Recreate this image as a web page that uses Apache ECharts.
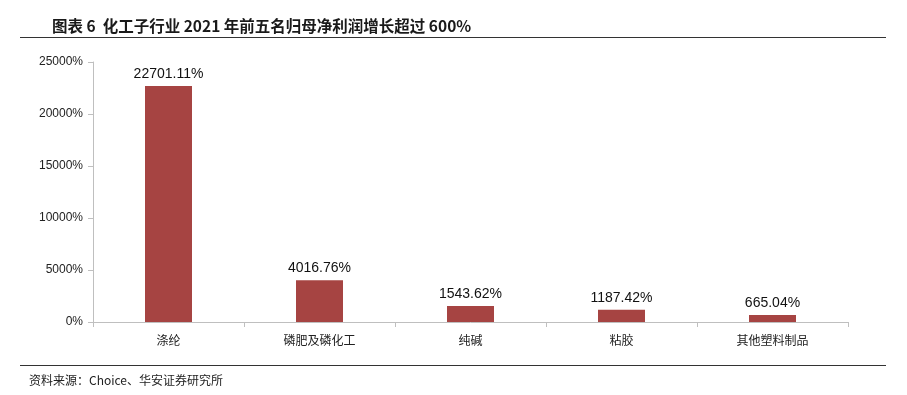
<!DOCTYPE html>
<html><head><meta charset="utf-8">
<script src="https://cdn.jsdelivr.net/npm/echarts@6/dist/echarts.min.js"></script>
<style>html,body{margin:0;padding:0;background:#fff}#c{width:907px;height:395px}</style>
</head><body><div id="c"></div>
<script>
const categories = ['涤纶','磷肥及磷化工','纯碱','粘胶','其他塑料制品'];
const values = [22701.11, 4016.76, 1543.62, 1187.42, 665.04];
const yTicks = [0, 5000, 10000, 15000, 20000, 25000];

const chart = echarts.init(document.getElementById('c'));
chart.setOption({
  animation: false,
  backgroundColor: '#fff',
  title: {
    text: '图表 6  化工子行业 2021 年前五名归母净利润增长超过 600%',
    left: 47, top: 13,
    textStyle: {fontFamily: 'Noto Sans CJK SC', fontSize: 15.5, fontWeight: 'bold', color: '#1a1a1a'}
  },
  graphic: [
    {type: 'line', shape: {x1: 20, y1: 37.5, x2: 886, y2: 37.5}, style: {stroke: '#333', lineWidth: 1}},
    {type: 'line', shape: {x1: 20, y1: 365.5, x2: 886, y2: 365.5}, style: {stroke: '#333', lineWidth: 1}},
    {type: 'text', left: 29, top: 374, style: {text: '资料来源：Choice、华安证券研究所', font: '12px "Noto Sans CJK SC"', fill: '#222'}}
  ],
  grid: {left: 93, top: 62, right: 59, bottom: 73},
  xAxis: {
    type: 'category', data: categories,
    axisLine: {lineStyle: {color: '#BFBFBF'}},
    axisTick: {show: true, alignWithLabel: false, length: 5, lineStyle: {color: '#BFBFBF'}},
    axisLabel: {color: '#222', fontSize: 12, fontFamily: 'Noto Sans CJK SC', margin: 12}
  },
  yAxis: {
    type: 'value', min: 0, max: 25000, interval: 5000,
    axisLine: {show: true, lineStyle: {color: '#BFBFBF'}},
    axisTick: {show: true, inside: false, length: 5, lineStyle: {color: '#BFBFBF'}},
    splitLine: {show: false},
    axisLabel: {color: '#222', fontSize: 12, fontFamily: 'Liberation Sans', formatter: v => v + '%', margin: 10}
  },
  series: [{
    type: 'bar', data: values, barWidth: 47,
    itemStyle: {color: '#A64442'},
    label: {show: true, position: 'top', distance: 5, color: '#111', fontSize: 14, fontFamily: 'Liberation Sans',
      formatter: p => p.value.toFixed(2) + '%'}
  }]
});
</script></body></html>
